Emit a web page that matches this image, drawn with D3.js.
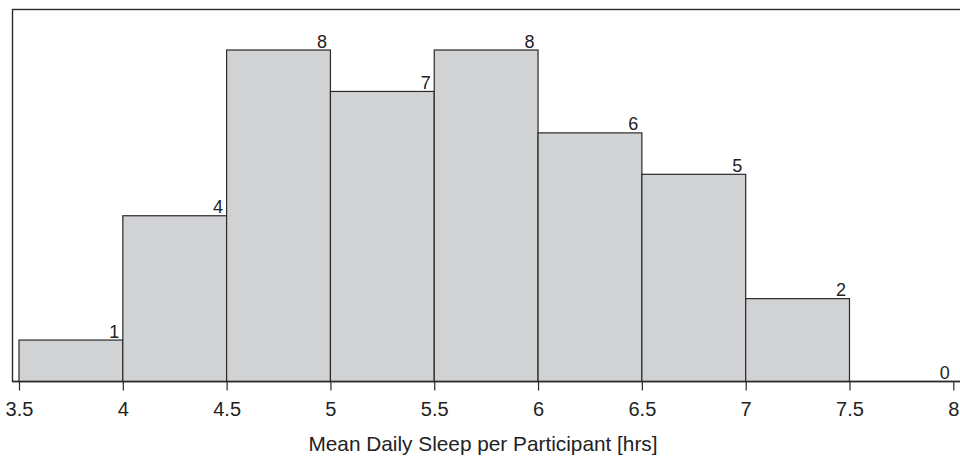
<!DOCTYPE html>
<html><head><meta charset="utf-8">
<script src="https://cdn.jsdelivr.net/npm/d3@7"></script>
<style>body{margin:0;background:#fff}svg{display:block}text{font-family:"Liberation Sans",Arial,sans-serif;fill:#222}</style>
</head><body><svg id="c" width="960" height="457"></svg>
<script>
const binStarts = [3.5, 4, 4.5, 5, 5.5, 6, 6.5, 7, 7.5];
const binWidth = 0.5;
const counts = [1, 4, 8, 7, 8, 6, 5, 2, 0];
const tickValues = [3.5, 4, 4.5, 5, 5.5, 6, 6.5, 7, 7.5, 8];
const xTitle = "Mean Daily Sleep per Participant [hrs]";

const svg = d3.select("#c");
const x = d3.scaleLinear().domain([3.5, 8]).range([19, 953.3]);
const y = d3.scaleLinear().domain([0, 8]).range([381.5, 50]);

// frame
svg.append("rect").attr("x", 12.5).attr("y", 9.5).attr("width", 970).attr("height", 372)
  .attr("fill", "none").attr("stroke", "#2a2a2a").attr("stroke-width", 1.4);

// bars
svg.selectAll("rect.bar").data(binStarts.map((s, i) => ({s, c: counts[i]})).filter(d => d.c > 0))
  .enter().append("rect").attr("class", "bar")
  .attr("x", d => x(d.s)).attr("y", d => y(d.c))
  .attr("width", d => x(d.s + binWidth) - x(d.s)).attr("height", d => y(0) - y(d.c))
  .attr("fill", "#d1d2d4").attr("stroke", "#2a2a2a").attr("stroke-width", 1.2);

// count labels
svg.selectAll("text.cnt").data(binStarts.map((s, i) => ({s, c: counts[i]})))
  .enter().append("text").attr("class", "cnt")
  .attr("x", d => x(d.s + binWidth) - 3.5).attr("y", d => y(d.c) - 2.5)
  .attr("text-anchor", "end").style("font-size", "18px").text(d => d.c);

// x axis
const ax = svg.append("g").attr("transform", `translate(0,${y(0)})`)
  .call(d3.axisBottom(x).tickValues(tickValues).tickSize(9).tickFormat(d => d3.format("")(d)));
ax.select(".domain").remove();
ax.selectAll(".tick line").attr("stroke", "#2a2a2a").attr("stroke-width", 1.2);
ax.selectAll(".tick text").attr("y", 34).attr("dy", null)
  .style("font-size", "20px").style("fill", "#222").style("font-family", '"Liberation Sans",Arial,sans-serif');
svg.append("line").attr("x1", 12).attr("x2", 960).attr("y1", y(0)).attr("y2", y(0))
  .attr("stroke", "#2a2a2a").attr("stroke-width", 1.4);

svg.append("text").attr("x", 483).attr("y", 451)
  .attr("text-anchor", "middle").style("font-size", "20.8px").text(xTitle);
</script></body></html>
